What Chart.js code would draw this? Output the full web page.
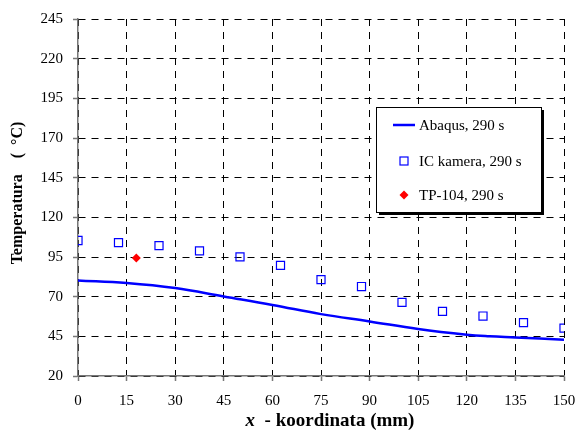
<!DOCTYPE html>
<html>
<head>
<meta charset="utf-8">
<script src="https://cdn.jsdelivr.net/npm/chart.js@4/dist/chart.umd.min.js"></script>
<style>
  html, body { margin: 0; padding: 0; background: #fff; }
  #wrap { width: 576px; height: 433px; }
</style>
</head>
<body>
<div id="wrap"><canvas id="tempChart" width="576" height="433"></canvas></div>
<script>
// data
const abaqusX = [0, 15, 30, 45, 60, 75, 90, 105, 120, 127, 135, 150];
const abaqusTemp = [80.2, 78.6, 75.4, 70.1, 64.8, 59.0, 54.4, 49.6, 46.0, 45.0, 44.3, 42.9];
const kameraX = [0, 12.5, 25, 37.5, 50, 62.5, 75, 87.5, 100, 112.5, 125, 137.5, 150];
const kameraTemp = [105.4, 104.1, 102.2, 98.9, 95.1, 89.7, 80.7, 76.4, 66.4, 60.7, 57.8, 53.6, 50.2];
const tpX = [18];
const tpTemp = [94.3];
const seriesNames = ['Abaqus, 290 s', 'IC kamera, 290 s', 'TP-104, 290 s'];
const yTitle = 'Temperatura    (  \u00B0C)';
const xTitleVar = 'x';
const xTitleRest = '  - koordinata (mm)';

const serif = "'Liberation Serif', 'Times New Roman', serif";

function toPoints(xs, ys) {
    return xs.map((x, i) => ({ x: x, y: ys[i] }));
}

// boxed legend with shadow, plus the axis titles
const boxLegend = {
    id: 'boxLegend',
    afterDatasetsDraw(chart) {
        const ctx = chart.ctx;
        const bx = 376, by = 107, bw = 165, bh = 105;
        ctx.save();
        ctx.fillStyle = '#000';
        ctx.fillRect(bx + 3, by + 3, bw, bh);
        ctx.fillStyle = '#fff';
        ctx.fillRect(bx, by, bw, bh);
        ctx.strokeStyle = '#000';
        ctx.lineWidth = 1;
        ctx.strokeRect(bx + 0.5, by + 0.5, bw, bh);

        ctx.font = '15px ' + serif;
        ctx.fillStyle = '#000';
        ctx.textBaseline = 'middle';
        ctx.textAlign = 'left';
        const rows = [125, 161, 195];

        ctx.strokeStyle = '#0000ff';
        ctx.lineWidth = 2.5;
        ctx.beginPath();
        ctx.moveTo(393, rows[0]);
        ctx.lineTo(415, rows[0]);
        ctx.stroke();

        ctx.strokeStyle = '#0000ff';
        ctx.lineWidth = 1.2;
        ctx.strokeRect(400, rows[1] - 4, 8, 8);

        ctx.fillStyle = '#ff0000';
        ctx.beginPath();
        ctx.moveTo(404, rows[2] - 4.5);
        ctx.lineTo(408.5, rows[2]);
        ctx.lineTo(404, rows[2] + 4.5);
        ctx.lineTo(399.5, rows[2]);
        ctx.closePath();
        ctx.fill();

        ctx.fillStyle = '#000';
        seriesNames.forEach((name, i) => ctx.fillText(name, 419, rows[i] + 1));
        ctx.restore();
    },
    afterDraw(chart) {
        const ctx = chart.ctx;
        ctx.save();
        ctx.fillStyle = '#000';
        ctx.textBaseline = 'middle';
        // x axis title: italic variable then bold text
        ctx.font = 'italic bold 19px ' + serif;
        const w1 = ctx.measureText(xTitleVar).width;
        ctx.font = 'bold 19px ' + serif;
        const w2 = ctx.measureText(xTitleRest).width;
        let x0 = 330 - (w1 + w2) / 2;
        ctx.font = 'italic bold 19px ' + serif;
        ctx.textAlign = 'left';
        ctx.fillText(xTitleVar, x0, 421);
        ctx.font = 'bold 19px ' + serif;
        ctx.fillText(xTitleRest, x0 + w1, 421);
        // y axis title
        ctx.translate(18, 193);
        ctx.rotate(-Math.PI / 2);
        ctx.textAlign = 'center';
        ctx.font = 'bold 16px ' + serif;
        ctx.fillText(yTitle, 0, 0);
        ctx.restore();
    }
};

const ctx = document.getElementById('tempChart');
const chart = new Chart(ctx, {
    type: 'scatter',
    data: {
        datasets: [{
            label: seriesNames[0],
            data: toPoints(abaqusX, abaqusTemp),
            showLine: true,
            borderColor: '#0000ff',
            borderWidth: 2.5,
            pointRadius: 0,
            tension: 0.4,
            order: 3,
        }, {
            label: seriesNames[1],
            data: toPoints(kameraX, kameraTemp),
            pointStyle: 'rect',
            pointRadius: 5.7,
            borderColor: '#0000ff',
            borderWidth: 1.2,
            backgroundColor: 'transparent',
            order: 2,
        }, {
            label: seriesNames[2],
            data: toPoints(tpX, tpTemp),
            pointStyle: 'rectRot',
            pointRadius: 4.5,
            borderWidth: 0,
            borderColor: '#ff0000',
            backgroundColor: '#ff0000',
            order: 1,
        }]
    },
    options: {
        responsive: false,
        animation: false,
        layout: {
            padding: { left: 0, right: 1, top: 19, bottom: 0 }
        },
        plugins: {
            legend: { display: false },
            tooltip: { enabled: false },
        },
        scales: {
            x: {
                type: 'linear',
                min: 0,
                max: 150,
                afterFit(scale) {
                    scale.height = 57;
                    scale.paddingLeft = 0;
                    scale.paddingRight = 12;
                },
                border: { color: '#777', width: 1.5, dash: [7, 6] },
                grid: {
                    color: '#000',
                    lineWidth: 1,
                    tickLength: 5,
                    tickColor: '#777',
                    tickWidth: 1.5,
                    tickBorderDash: [],
                },
                ticks: {
                    stepSize: 15,
                    padding: 11,
                    color: '#000',
                    maxRotation: 0,
                    font: { size: 15, family: serif },
                },
            },
            y: {
                min: 20,
                max: 245,
                afterFit(scale) { scale.width = 78; },
                border: { color: '#777', width: 1.5, dash: [7, 6] },
                grid: {
                    color: '#000',
                    lineWidth: 1,
                    tickLength: 5,
                    tickColor: '#777',
                    tickWidth: 1.5,
                    tickBorderDash: [],
                },
                ticks: {
                    stepSize: 25,
                    padding: 10,
                    color: '#000',
                    font: { size: 15, family: serif },
                },
            },
        },
    },
    plugins: [boxLegend],
});
</script>
</body>
</html>
